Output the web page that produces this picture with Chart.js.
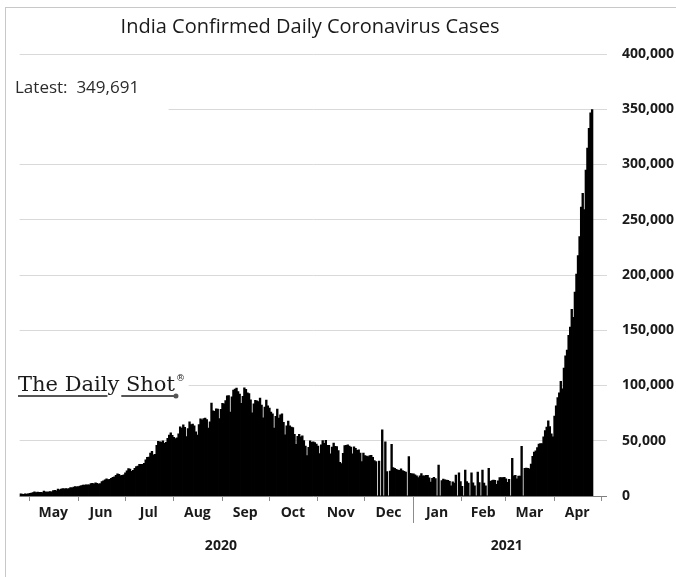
<!DOCTYPE html>
<html>
<head>
<meta charset="utf-8">
<script src="https://cdn.jsdelivr.net/npm/chart.js@4.4.1/dist/chart.umd.min.js"></script>
<style>
  body { margin: 0; background: #fff; }
  canvas { display: block; }
</style>
</head>
<body>
<canvas id="chart" width="676" height="577" style="width:676px;height:577px;"></canvas>
<script>
// daily confirmed cases (Apr 25 2020 .. Apr 25 2021)
const apr2020 = [1800, 1600, 1560, 1900, 1700, 1800];
const may2020 = [2400, 2560, 2950, 3650, 2970, 3590, 3360, 3340, 3110, 4350, 3600, 3520, 3760, 3940, 3790, 4860,
  5050, 4630, 6150, 5550, 6200, 6630, 6420, 6540, 6390, 6570, 7470, 7250, 8100, 8380, 8170];
const jun2020 = [8390, 8910, 9300, 9850, 9890, 9970, 9990, 9980, 11160, 11460, 10960, 11930, 11500, 10670, 11090,
  12880, 13590, 14520, 15410, 14820, 14930, 15970, 16920, 17300, 18550, 19910, 19460, 18520, 18640, 19150];
const jul2020 = [20900, 22770, 24850, 24250, 22250, 23140, 24880, 26510, 27110, 28640, 28700, 28500, 29430, 32700,
  34960, 35250, 38700, 40430, 37150, 37720, 45720, 49310, 48920, 48660, 49930, 47700, 48510, 52120, 55080, 57120, 54740];
const aug2020 = [53000, 52000, 52500, 56300, 62500, 61500, 64400, 62000, 53600, 61000, 67000, 64500, 65000, 63500,
  58000, 55100, 64500, 69700, 68900, 69900, 70500, 69200, 61400, 67100, 84000, 77000, 76500, 78800, 78500, 70000, 78400];
const sep2020 = [83900, 83300, 86400, 90600, 90800, 75800, 89700, 95700, 96600, 97600, 94400, 92100, 83800, 90100,
  97900, 96400, 93300, 92600, 87000, 75100, 83300, 86500, 86100, 85400, 88600, 82200, 70600, 80500, 86800, 81500];
const oct2020 = [79500, 75800, 74400, 61300, 72000, 78500, 70500, 73300, 74400, 66700, 55300, 63500, 67700, 63400,
  62200, 61900, 55700, 46800, 54000, 55800, 53400, 54400, 50100, 45100, 36500, 43900, 49900, 48600, 49000, 48300, 47000];
const nov2020 = [45200, 38300, 46300, 50200, 47600, 50400, 45700, 45900, 38100, 44300, 47900, 44900, 44700, 41100,
  30500, 29200, 38600, 45600, 45900, 46200, 45200, 44100, 38000, 44400, 43100, 41300, 41800, 38800, 31100, 38800];
const dec2020 = [36600, 36000, 35500, 36600, 36700, 35000, 32000, 31000, 0, 31500, 0, 59800, 0, 49000, 22000, 0,
  22500, 46800, 25600, 25000, 24000, 23500, 23200, 24600, 23000, 22300, 21500, 0, 35600, 20500, 20000];
const jan2021 = [20000, 19100, 18200, 16500, 18100, 20300, 18100, 18200, 18600, 18600, 16300, 12600, 15900, 16900,
  15600, 0, 28000, 0, 13800, 15200, 14500, 14300, 14200, 13200, 9100, 12700, 11700, 18900, 0, 21000, 13000];
const feb2021 = [8600, 0, 23400, 12900, 11700, 0, 21000, 11800, 9100, 0, 21600, 12100, 0, 23400, 11600, 9100, 0,
  25000, 13200, 13900, 14300, 14200, 10600, 13700, 16700, 16600, 16500, 16800];
const mar2021 = [15500, 12300, 15000, 0, 34000, 18300, 18600, 15400, 17900, 17900, 45000, 0, 24900, 25300, 25000,
  24500, 28900, 35900, 39700, 40900, 43800, 46900, 47300, 47300, 53500, 59100, 62300, 68000, 62700, 56200, 53500];
const apr2021 = [72300, 81500, 89100, 93200, 103600, 97000, 115700, 126800, 132000, 145400, 152900, 168900, 161700,
  184400, 200700, 217400, 234700, 261500, 273800, 259200, 295000, 314800, 332700, 346800, 349691];

const monthNames = ['May', 'Jun', 'Jul', 'Aug', 'Sep', 'Oct', 'Nov', 'Dec', 'Jan', 'Feb', 'Mar', 'Apr'];
const monthDays = [31, 30, 31, 31, 30, 31, 30, 31, 31, 28, 31, 30];
const years = ['2020', '2021'];
const yearMonths = [8, 4];
const yTicks = [0, 50000, 100000, 150000, 200000, 250000, 300000, 350000, 400000];
const latest = 349691;

const cases = [].concat(apr2020, may2020, jun2020, jul2020, aug2020, sep2020, oct2020,
  nov2020, dec2020, jan2021, feb2021, mar2021, apr2021);

// axis runs a few days past the last bar (to May 4 2021)
const axisDays = 375;
const labels = [];
const start = new Date(2020, 3, 25);
for (let i = 0; i < axisDays; i++) {
  const d = new Date(start.getFullYear(), start.getMonth(), start.getDate() + i);
  labels.push(d.toISOString().slice(0, 10));
}

const FONT = "'Open Sans', 'DejaVu Sans', sans-serif";
const SERIF = "'DejaVu Serif', 'Liberation Serif', serif";

const decor = {
  id: 'decor',
  beforeDraw(chart) {
    const ctx = chart.ctx;
    ctx.save();
    ctx.fillStyle = '#fff';
    ctx.fillRect(0, 0, chart.width, chart.height);
    // outer frame
    ctx.strokeStyle = '#c8c8c8';
    ctx.lineWidth = 1;
    ctx.strokeRect(5.5, 7.5, chart.width + 10, chart.height + 10);
    ctx.restore();
  },
  beforeDatasetsDraw(chart) {
    const { ctx, chartArea: a } = chart;
    ctx.save();
    ctx.strokeStyle = '#7f7f7f';
    ctx.lineWidth = 1;
    ctx.beginPath();
    ctx.moveTo(a.left, Math.round(a.bottom) + 0.5);
    ctx.lineTo(a.right, Math.round(a.bottom) + 0.5);
    ctx.stroke();
    ctx.restore();
  },
  afterDraw(chart) {
    const { ctx, chartArea: a, scales: { x } } = chart;
    const w = (a.right - a.left) / labels.length;
    const edge = i => x.getPixelForValue(i) - w / 2;
    const base = Math.round(a.bottom) + 0.5;
    ctx.save();

    // month boundaries, ticks and labels
    const bounds = [apr2020.length];
    monthDays.forEach(n => bounds.push(bounds[bounds.length - 1] + n));
    ctx.strokeStyle = '#8c8c8c';
    ctx.lineWidth = 1;
    bounds.forEach((b, k) => {
      const px = Math.round(edge(b)) + 0.5;
      ctx.beginPath();
      ctx.moveTo(px, base);
      ctx.lineTo(px, k === yearMonths[0] ? 523 : 501);
      ctx.stroke();
    });
    ctx.fillStyle = '#1a1a1a';
    ctx.font = 'bold 14px ' + FONT;
    ctx.textAlign = 'center';
    ctx.textBaseline = 'middle';
    monthNames.forEach((m, k) => {
      ctx.fillText(m, (edge(bounds[k]) + edge(bounds[k + 1])) / 2, 513);
    });
    let m0 = 0;
    years.forEach((yr, k) => {
      const m1 = m0 + yearMonths[k];
      ctx.fillText(yr, (edge(bounds[m0]) + edge(bounds[m1])) / 2, 546);
      m0 = m1;
    });

    // title
    ctx.font = '20px ' + FONT;
    ctx.fillStyle = '#1a1a1a';
    ctx.fillText('India Confirmed Daily Coronavirus Cases', 310, 27);

    // latest value box
    ctx.fillStyle = '#fff';
    ctx.fillRect(a.left - 1, 70, 150, 45);
    ctx.fillStyle = '#2b2b2b';
    ctx.font = '17px ' + FONT;
    ctx.textAlign = 'left';
    ctx.textBaseline = 'alphabetic';
    ctx.fillText('Latest:  ' + latest.toLocaleString('en-US'), 15, 93);

    // watermark
    ctx.fillStyle = '#fff';
    ctx.fillRect(a.left - 1, 366, 170, 36);
    ctx.fillStyle = '#1a1a1a';
    ctx.font = '21px ' + SERIF;
    ctx.fillText('The Daily Shot', 18, 391);
    const tw = ctx.measureText('The Daily Shot').width;
    const gy = ctx.measureText('The Dail').width;
    const gy2 = ctx.measureText('The Daily').width;
    ctx.font = '9px ' + SERIF;
    ctx.fillText('®', 18 + tw + 1, 381);
    ctx.strokeStyle = '#555';
    ctx.lineWidth = 2;
    ctx.beginPath();
    ctx.moveTo(18, 396); ctx.lineTo(18 + gy, 396);
    ctx.moveTo(18 + gy2 + 2, 396); ctx.lineTo(18 + tw, 396);
    ctx.stroke();
    ctx.fillStyle = '#555';
    ctx.beginPath();
    ctx.arc(18 + tw + 1, 396, 2.5, 0, Math.PI * 2);
    ctx.fill();
    ctx.restore();
  }
};

new Chart(document.getElementById('chart'), {
  type: 'bar',
  data: {
    labels: labels,
    datasets: [{
      label: 'Daily cases',
      data: cases,
      backgroundColor: '#000',
      borderWidth: 0,
      barPercentage: 1,
      categoryPercentage: 1,
      inflateAmount: 0.4
    }]
  },
  options: {
    responsive: false,
    devicePixelRatio: 1,
    animation: false,
    layout: { padding: { left: 19.6, top: 54, bottom: 81, right: 0 } },
    plugins: { legend: { display: false }, tooltip: { enabled: false } },
    scales: {
      x: { display: false, offset: true },
      y: {
        position: 'right',
        min: 0,
        max: 400000,
        afterBuildTicks: s => { s.ticks = yTicks.map(v => ({ value: v })); },
        afterFit: s => { s.width = 69; },
        border: { display: false },
        grid: { color: '#d9d9d9', drawTicks: false },
        ticks: {
          padding: 15,
          color: '#1a1a1a',
          font: { family: FONT, size: 14, weight: 'bold' },
          callback: v => v.toLocaleString('en-US')
        }
      }
    }
  },
  plugins: [decor]
});
</script>
</body>
</html>
